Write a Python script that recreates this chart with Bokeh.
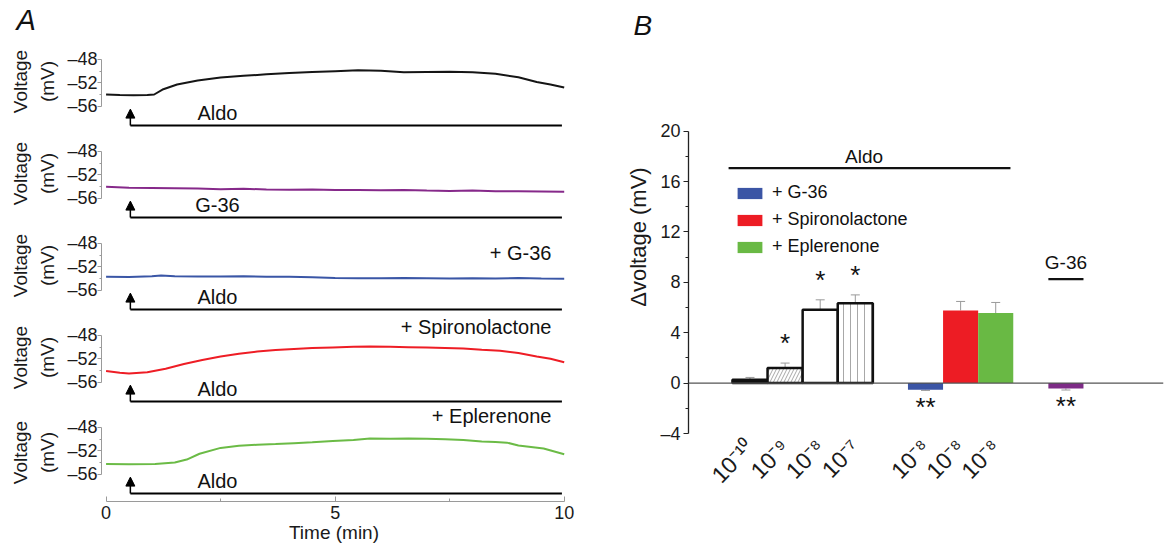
from bokeh.plotting import figure
from bokeh.layouts import row, column
from bokeh.models import (Range1d, LinearAxis, FixedTicker, Label, Arrow, NormalHead,
                          Span, Whisker, TeeHead, ColumnDataSource, Legend, LegendItem)
from bokeh.embed import file_html
from bokeh.resources import INLINE
from bokeh.core.properties import value

FONT = "Liberation Sans"

# ---------------- Panel A data (membrane voltage traces, mV vs min) ----------------
t_aldo = [0, 0.3, 0.6, 0.9, 1.05, 1.25, 1.55, 2.0, 2.5, 3.0, 3.5, 4.0, 4.5, 5.0, 5.5,
          6.0, 6.5, 7.0, 7.5, 8.0, 8.5, 9.0, 9.4, 9.7, 10]
v_aldo = [-54.0, -54.1, -54.15, -54.1, -54.0, -53.1, -52.3, -51.6, -51.1, -50.8, -50.55,
          -50.3, -50.15, -50.0, -49.85, -49.95, -50.2, -50.15, -50.1, -50.2, -50.45,
          -51.05, -51.85, -52.3, -52.8]

t_g36 = [0, 0.5, 1, 1.5, 2, 2.5, 3, 3.5, 4, 4.5, 5, 5.5, 6, 6.5, 7, 7.5, 8, 8.5, 9, 9.5, 10]
v_g36 = [-54.05, -54.2, -54.25, -54.3, -54.35, -54.45, -54.4, -54.5, -54.55, -54.5, -54.6,
         -54.6, -54.65, -54.6, -54.7, -54.75, -54.7, -54.8, -54.8, -54.85, -54.9]

t_aldo_g36 = [0, 0.5, 1.0, 1.2, 1.5, 2.0, 2.5, 3.0, 3.5, 4.0, 4.5, 5.0, 5.5, 6.0, 6.5,
              7.0, 7.5, 8.0, 8.5, 9.0, 9.5, 10]
v_aldo_g36 = [-53.7, -53.75, -53.6, -53.5, -53.6, -53.65, -53.65, -53.6, -53.7, -53.7,
              -53.8, -53.9, -53.95, -53.95, -53.9, -53.95, -54.0, -53.95, -54.0, -53.9,
              -54.0, -54.05]

t_aldo_spiro = [0, 0.3, 0.5, 0.9, 1.3, 1.7, 2.1, 2.5, 2.9, 3.3, 3.7, 4.1, 4.5, 4.95, 5.4,
                5.76, 6.2, 6.6, 7.0, 7.4, 7.8, 8.2, 8.6, 9.0, 9.4, 9.7, 10]
v_aldo_spiro = [-54.1, -54.4, -54.5, -54.3, -53.7, -52.9, -52.2, -51.6, -51.15, -50.75,
                -50.5, -50.3, -50.15, -50.05, -49.95, -49.9, -49.95, -50.0, -50.05, -50.15,
                -50.25, -50.45, -50.6, -51.0, -51.6, -52.0, -52.6]

t_aldo_eple = [0, 0.5, 1.07, 1.5, 1.76, 2.04, 2.5, 2.9, 3.3, 3.7, 4.1, 4.5, 4.95, 5.4,
               5.76, 6.2, 6.6, 7.0, 7.4, 7.8, 8.2, 8.5, 8.75, 9.0, 9.55, 10]
v_aldo_eple = [-54.25, -54.3, -54.25, -54.0, -53.5, -52.5, -51.5, -51.15, -50.95, -50.85,
               -50.7, -50.55, -50.3, -50.15, -49.9, -49.95, -49.9, -49.95, -50.0, -50.15,
               -50.4, -50.5, -50.6, -51.1, -51.6, -52.6]

trace_times = [t_aldo, t_g36, t_aldo_g36, t_aldo_spiro, t_aldo_eple]
trace_values = [v_aldo, v_g36, v_aldo_g36, v_aldo_spiro, v_aldo_eple]
trace_colors = ["#151515", "#86298a", "#3a56a6", "#ee1d25", "#6bbb46"]
stim_labels = ["Aldo", "G-36", "Aldo", "Aldo", "Aldo"]
condition_labels = ["", "", "+ G-36", "+ Spironolactone", "+ Eplerenone"]
condition_label_y = [None, None, -49.7, -46.5, -46.0]

stim_start = 0.53      # min, application time (arrow)
stim_end = 9.95
stim_level = -59.3     # mV level of the application bar
arrow_tip = -56.5
stim_text_t = 2.43
stim_text_y = -57.2
condition_text_t = 9.72

time_ticks = [0, 5, 10]
time_minor = [2.5, 7.5]
volt_ticks = [-56, -52, -48]
volt_minor = [-54, -50]
volt_tick_labels = ["–56", "–52", "–48"]

# ---------------- Panel B data (Δvoltage, mV) ----------------
bar_pos = [1, 2, 3, 4, 6, 7, 8, 10]
bar_tick_labels = ["10⁻¹⁰", "10⁻⁹", "10⁻⁸", "10⁻⁷", "10⁻⁸", "10⁻⁸", "10⁻⁸"]
bar_vals = [0.27, 1.19, 5.82, 6.34, -0.53, 5.77, 5.56, -0.42]
bar_err = [0.18, 0.40, 0.79, 0.66, 0.05, 0.71, 0.84, 0.13]
bar_stars = ["", "*", "*", "*", "**", "", "", "**"]
conc_fill = ["#111111", "white", "white", "white"]
conc_hatch = [" ", "/", " ", "|"]
color_fill = ["#3b55a5", "#ed1c24", "#69b944", "#7d2b86"]
legend_labels = ["+ G-36", "+ Spironolactone", "+ Eplerenone"]
b_yticks = [-4, 0, 4, 8, 12, 16, 20]
b_yminor = [-2, 2, 6, 10, 14, 18]
b_ytick_labels = ["–4", "0", "4", "8", "12", "16", "20"]
aldo_bracket = (0.39, 8.42, 17.06)    # x0, x1, y
aldo_label_xy = (4.25, 18.0)
g36_bracket = (9.5, 10.5, 8.25)
g36_label_xy = (10.0, 9.6)

# ================= Panel A =================
A_W = 580
A_LEFT, A_RIGHT = 101, 14
A_TOP_PAD, A_BOTTOM_PAD = 35, 45
PANEL_PX, LAST_PX = 92, 98
MV_PER_PANEL = 15.75
Y_TOP = -43.9
x_rng = Range1d(-0.1, 10.05)

panels = []
for i in range(5):
    first, last = i == 0, i == 4
    fh = LAST_PX if last else PANEL_PX
    ybot = Y_TOP - MV_PER_PANEL * fh / PANEL_PX
    h = fh + (A_TOP_PAD if first else 0) + (A_BOTTOM_PAD if last else 0)
    p = figure(width=A_W, height=h, x_range=x_rng, y_range=Range1d(ybot, Y_TOP),
               output_backend="svg", toolbar_location=None,
               x_axis_type=("linear" if last else None), y_axis_type=None,
               min_border_left=A_LEFT, min_border_right=A_RIGHT,
               min_border_top=(A_TOP_PAD if first else 0),
               min_border_bottom=(A_BOTTOM_PAD if last else 0))
    p.outline_line_color = None

    yax = LinearAxis(ticker=FixedTicker(ticks=volt_ticks, minor_ticks=volt_minor),
                     bounds=(min(volt_ticks), max(volt_ticks)),
                     major_label_overrides=dict(zip(volt_ticks, volt_tick_labels)))
    yax.axis_line_color = "#9a9a9a"
    yax.major_tick_line_color = "#9a9a9a"
    yax.minor_tick_line_color = "#9a9a9a"
    yax.major_tick_out, yax.major_tick_in = 4, 0
    yax.minor_tick_out, yax.minor_tick_in = 2, 0
    yax.major_label_text_font = FONT
    yax.major_label_text_font_size = "18px"
    yax.major_label_text_color = "#1a1a1a"
    yax.major_label_standoff = 0
    yax.axis_label = "Voltage\n(mV)"
    yax.axis_label_text_font = FONT
    yax.axis_label_text_font_size = "19px"
    yax.axis_label_text_font_style = "normal"
    yax.axis_label_text_color = "#1a1a1a"
    yax.axis_label_text_line_height = 1.3
    yax.axis_label_standoff = 6
    p.add_layout(yax, "left")

    p.line(trace_times[i], trace_values[i], line_color=trace_colors[i], line_width=2)

    p.line([stim_start, stim_end], [stim_level, stim_level], line_color="black", line_width=2)
    p.add_layout(Arrow(end=NormalHead(size=9, fill_color="black", line_color="black", line_width=1),
                       x_start=stim_start, y_start=stim_level, x_end=stim_start, y_end=arrow_tip,
                       line_color="black", line_width=1.5))
    p.add_layout(Label(x=stim_text_t, y=stim_text_y, text=stim_labels[i], text_align="center",
                       text_baseline="middle", text_font=FONT, text_font_size="20px",
                       text_color="#111111"))
    if condition_labels[i]:
        p.add_layout(Label(x=condition_text_t, y=condition_label_y[i], text=condition_labels[i],
                           text_align="right", text_baseline="middle", text_font=FONT,
                           text_font_size="20px", text_color="#111111"))
    if first:
        p.title.text = "A"
        p.title.align = "left"
        p.title.offset = -85
        p.title.standoff = 0
        p.title.text_font = FONT
        p.title.text_font_size = "29px"
        p.title.text_font_style = "italic"
        p.title.text_color = "#111111"
    if last:
        xax = p.xaxis[0]
        xax.ticker = FixedTicker(ticks=time_ticks, minor_ticks=time_minor)
        xax.bounds = (min(time_ticks), max(time_ticks))
        xax.axis_line_color = "#9a9a9a"
        xax.major_tick_line_color = "#9a9a9a"
        xax.minor_tick_line_color = "#9a9a9a"
        xax.major_tick_in, xax.major_tick_out = 5, 0
        xax.minor_tick_in, xax.minor_tick_out = 3, 0
        xax.major_label_text_font = FONT
        xax.major_label_text_font_size = "18px"
        xax.major_label_text_color = "#1a1a1a"
        xax.major_label_standoff = 4
        xax.axis_label = "Time (min)"
        xax.axis_label_text_font = FONT
        xax.axis_label_text_font_size = "19px"
        xax.axis_label_text_font_style = "normal"
        xax.axis_label_text_color = "#1a1a1a"
        xax.axis_label_standoff = 0
        p.xgrid.grid_line_color = None
    panels.append(p)

# ================= Panel B =================
B_TOP, B_FRAME_H, B_H = 40, 393, 546
PX_PER_UNIT_Y = 12.6
pB = figure(width=586, height=B_H,
            x_range=Range1d(-0.752, 12.78),
            y_range=Range1d(-4, -4 + B_FRAME_H / PX_PER_UNIT_Y),
            output_backend="svg", toolbar_location=None,
            min_border_left=108, min_border_right=3, min_border_top=B_TOP,
            min_border_bottom=B_H - B_TOP - B_FRAME_H)
pB.outline_line_color = None
pB.grid.grid_line_color = None
pB.title.text = "B"
pB.title.align = "left"
pB.title.offset = -55
pB.title.standoff = 0
pB.title.text_font = FONT
pB.title.text_font_size = "28px"
pB.title.text_font_style = "italic"
pB.title.text_color = "#111111"

conc_src = ColumnDataSource(dict(x=bar_pos[:4], top=bar_vals[:4], fill=conc_fill, hatch=conc_hatch))
pB.vbar(x="x", top="top", bottom=0, width=1, source=conc_src, fill_color="fill",
        line_color="#111111", line_width=2.5, hatch_pattern="hatch", hatch_color="#a8a8a8",
        hatch_scale=7, hatch_weight=1)
col_src = ColumnDataSource(dict(x=bar_pos[4:], top=bar_vals[4:], fill=color_fill))
r_col = pB.vbar(x="x", top="top", bottom=0, width=1, source=col_src, fill_color="fill",
                line_color=None)

pos_idx = [k for k, v in enumerate(bar_vals) if v >= 0]
neg_idx = [k for k, v in enumerate(bar_vals) if v < 0]
up_src = ColumnDataSource(dict(x=[bar_pos[k] for k in pos_idx],
                               lower=[bar_vals[k] for k in pos_idx],
                               upper=[bar_vals[k] + bar_err[k] for k in pos_idx]))
dn_src = ColumnDataSource(dict(x=[bar_pos[k] for k in neg_idx],
                               lower=[bar_vals[k] - bar_err[k] for k in neg_idx],
                               upper=[bar_vals[k] for k in neg_idx]))
pB.add_layout(Whisker(source=up_src, base="x", lower="lower", upper="upper",
                      upper_head=TeeHead(size=9, line_color="#9a9a9a", line_width=1),
                      lower_head=None, line_color="#9a9a9a", line_width=1))
pB.add_layout(Whisker(source=dn_src, base="x", lower="lower", upper="upper",
                      lower_head=TeeHead(size=9, line_color="#9a9a9a", line_width=1),
                      upper_head=None, line_color="#9a9a9a", line_width=1))

pB.add_layout(Span(location=0, dimension="width", line_color="#555555", line_width=1.3))

star_x, star_y, star_t = [], [], []
for k, s in enumerate(bar_stars):
    if s:
        star_x.append(bar_pos[k])
        star_t.append(s)
        if bar_vals[k] >= 0:
            star_y.append(bar_vals[k] + bar_err[k] + 1.6)
        else:
            star_y.append(bar_vals[k] - bar_err[k] - 1.3)
pB.text(x=star_x, y=star_y, text=star_t, text_align="center", text_baseline="middle",
        text_font=value(FONT), text_font_size="26px", text_color="#111111")

ax0, ax1, ay = aldo_bracket
pB.line([ax0, ax1], [ay, ay], line_color="#111111", line_width=2.2)
pB.add_layout(Label(x=aldo_label_xy[0], y=aldo_label_xy[1], text="Aldo", text_align="center",
                    text_baseline="middle", text_font=FONT, text_font_size="19px",
                    text_color="#111111"))
gx0, gx1, gy = g36_bracket
pB.line([gx0, gx1], [gy, gy], line_color="#111111", line_width=2.2)
pB.add_layout(Label(x=g36_label_xy[0], y=g36_label_xy[1], text="G-36", text_align="center",
                    text_baseline="middle", text_font=FONT, text_font_size="19px",
                    text_color="#111111"))

yb = pB.yaxis[0]
yb.ticker = FixedTicker(ticks=b_yticks, minor_ticks=b_yminor)
yb.bounds = (min(b_yticks), max(b_yticks))
yb.major_label_overrides = dict(zip(b_yticks, b_ytick_labels))
yb.axis_line_color = "#222222"
yb.axis_line_width = 1.3
yb.major_tick_line_color = "#222222"
yb.minor_tick_line_color = "#222222"
yb.major_tick_out, yb.major_tick_in = 5, 0
yb.minor_tick_out, yb.minor_tick_in = 3, 0
yb.major_label_text_font = FONT
yb.major_label_text_font_size = "18px"
yb.major_label_text_color = "#1a1a1a"
yb.major_label_standoff = 3
yb.axis_label = "Δvoltage (mV)"
yb.axis_label_text_font = FONT
yb.axis_label_text_font_size = "22px"
yb.axis_label_text_font_style = "normal"
yb.axis_label_text_color = "#1a1a1a"
yb.axis_label_standoff = 6

xb = pB.xaxis[0]
xb.ticker = FixedTicker(ticks=bar_pos[:7])
xb.major_label_overrides = dict(zip(bar_pos[:7], bar_tick_labels))
xb.axis_line_color = None
xb.major_tick_line_color = None
xb.minor_tick_line_color = None
xb.major_label_orientation = 0.8
xb.major_label_text_font = FONT
xb.major_label_text_font_size = "23px"
xb.major_label_text_color = "#1a1a1a"
xb.major_label_standoff = 4

legend = Legend(items=[LegendItem(label=value(lbl), renderers=[r_col], index=k)
                       for k, lbl in enumerate(legend_labels)],
                location=(46, 176), glyph_width=31, glyph_height=14, label_standoff=7,
                spacing=6, padding=0, margin=0, border_line_color=None,
                background_fill_alpha=0, label_text_font=FONT, label_text_font_size="18px",
                label_text_color="#111111")
pB.add_layout(legend)

layout = row(column(*panels), pB)
open("out.html", "w").write(file_html(layout, INLINE))
